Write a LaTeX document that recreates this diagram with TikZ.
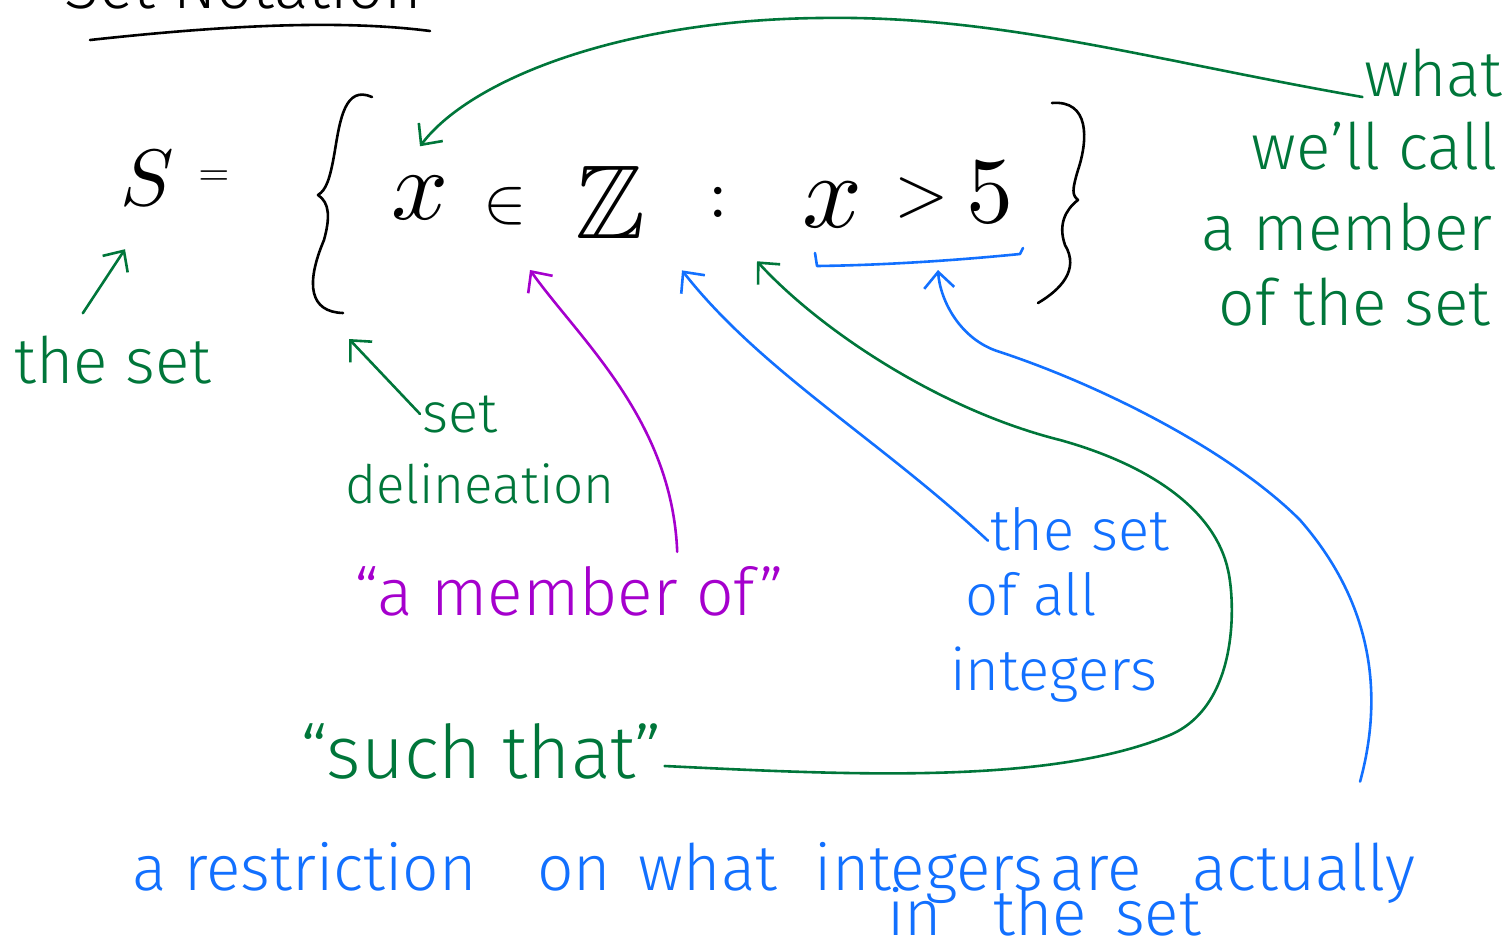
\documentclass[tikz,border=0pt]{standalone}
\usepackage{amssymb}
\usepackage{fontspec}
\setmainfont{Fira Sans}[UprightFont=* Light]
\usetikzlibrary{arrows.meta}

\definecolor{pengreen}{RGB}{0,118,58}
\definecolor{penblue}{RGB}{18,112,255}
\definecolor{penpurple}{RGB}{165,0,205}

% math drawn at 10pt and blown up
\newcommand{\penmath}[2]{\scalebox{#1}{$#2$}}

\tikzset{
  pen/.style={line width=2.6pt, line cap=round, line join=round},
  greenpen/.style={pen, draw=pengreen},
  bluepen/.style={pen, draw=penblue},
  purplepen/.style={pen, draw=penpurple},
  hand/.style={inner sep=2pt, font=\fontsize{#1}{#1}\selectfont},
  greentext/.style={hand=#1, text=pengreen},
  bluetext/.style={hand=#1, text=penblue},
  purpletext/.style={hand=#1, text=penpurple},
  mathsym/.style={inner sep=2pt, text=black}
}

\begin{document}
\begin{tikzpicture}[x=1pt, y=-1pt, >={Straight Barb[length=16pt,width=30pt]}]
\useasboundingbox (0,0) rectangle (1509,944);

% heading, cut off at the top
\node[hand=64, anchor=base] (title) at (243,9) {Set Notation};
\draw[pen] (90,40) .. controls (200,28) and (330,18) .. (430,31);

% the set in set-builder form
\node[mathsym, anchor=base] (Ssym) at (147,205) {\penmath{8}{S}};
\node[mathsym] (eqsym) at (214,178) {\penmath{4}{=}};
\node[mathsym] (xone) at (420,198) {\penmath{10}{x}};
\node[mathsym] (insym) at (505,206) {\penmath{6.5}{\in}};
\node[mathsym] (intsym) at (610,202) {\penmath{10.5}{\mathbb{Z}}};
\node[mathsym] (colonsym) at (718,202) {\penmath{7}{:}};
\node[mathsym] (xtwo) at (832,205) {\penmath{10.5}{x}};
\node[mathsym] (gtsym) at (922,198) {\penmath{7}{>}};
\node[mathsym] (fivesym) at (990,192) {\penmath{9.4}{5}};

% braces
\draw[pen] (372,97) .. controls (345,85) and (340,120) .. (335,150)
  .. controls (330,180) and (326,190) .. (318,195)
  .. controls (330,203) and (330,218) .. (324,240)
  .. controls (305,285) and (310,312) .. (343,313) coordinate (lbrEnd);
\draw[pen] (1052,103) .. controls (1090,100) and (1088,140) .. (1078,170)
  .. controls (1072,190) and (1072,195) .. (1078,200)
  .. controls (1065,210) and (1058,225) .. (1065,245)
  .. controls (1080,270) and (1060,290) .. (1038,303);

% labels
\node[greentext=64, anchor=base west] (theset) at (12,383) {the set};
\node[greentext=56, anchor=base west] (setw) at (420,432) {set};
\node[greentext=53, anchor=base west] (delin) at (343,503) {delineation};
\node[purpletext=66, anchor=base west] (amember) at (352,615) {“a member of”};
\node[greentext=74, anchor=base west] (suchthat) at (298,778) {“such that”};
\node[bluetext=58, anchor=base west] (bthe) at (988,550) {the set};
\node[bluetext=58, anchor=base west] (bofall) at (963,615) {of all};
\node[bluetext=58, anchor=base west] (bints) at (948,690) {integers};
\node[greentext=64, anchor=base east] (what) at (1505,97) {what};
\node[greentext=64, anchor=base east] (wecall) at (1500,170) {we’ll call};
\node[greentext=64, anchor=base east] (amem) at (1495,250) {a member};
\node[greentext=64, anchor=base east] (ofset) at (1493,325) {of the set};
\node[bluetext=64, anchor=base west] (restrA) at (130,890)
  {a restriction\hspace{43pt} on\hspace{10pt} what\hspace{20pt} integers\hspace{-10pt} are\hspace{33pt} actually};
\node[bluetext=64, anchor=base west] (restrB) at (885,935) {in\hspace{34pt} the\hspace{10pt} set};

% underline of the condition
\coordinate (ulL) at (815,253);
\coordinate (ulR) at (1023,248);
\coordinate (ulMid) at (938,262);
\draw[bluepen] (ulL) -- ++(2,13) .. controls (900,265) and (980,258) .. (1020,254) -- (ulR);

% arrows
\draw[greenpen,->] ([xshift=-30pt,yshift=20pt]theset.north) -- ([xshift=-22pt,yshift=-42pt]Ssym.south);
\draw[greenpen,->] (setw.west) -- ([xshift=6pt,yshift=-26pt]lbrEnd);
\draw[greenpen,->] (what.base west) .. controls (1150,60) and (1000,15) .. (820,18)
  .. controls (620,20) and (470,80) .. ([yshift=28pt]xone.north);
\draw[purplepen,->] ([xshift=108pt,yshift=12pt]amember.north) .. controls (672,420) and (580,340) .. ([xshift=25pt,yshift=-43pt]insym.south);
\draw[bluepen,->] ([yshift=-12pt]bthe.west) .. controls (880,440) and (760,370) .. ([xshift=72pt,yshift=-30pt]intsym.south);
\draw[greenpen,->] ([yshift=12pt]suchthat.base east) .. controls (850,775) and (1050,785) .. (1170,735)
  .. controls (1240,705) and (1235,600) .. (1228,570)
  .. controls (1215,510) and (1150,465) .. (1060,440)
  .. controls (940,410) and (820,330) .. ([xshift=39pt,yshift=-42pt]colonsym.south);
\draw[bluepen,->] ([xshift=-57pt,yshift=58pt]restrA.north east) .. controls (1385,690) and (1370,600) .. (1300,520)
  .. controls (1230,450) and (1100,385) .. (1000,352)
  .. controls (960,340) and (940,300) .. ([yshift=-8pt]ulMid);
\end{tikzpicture}
\end{document}
